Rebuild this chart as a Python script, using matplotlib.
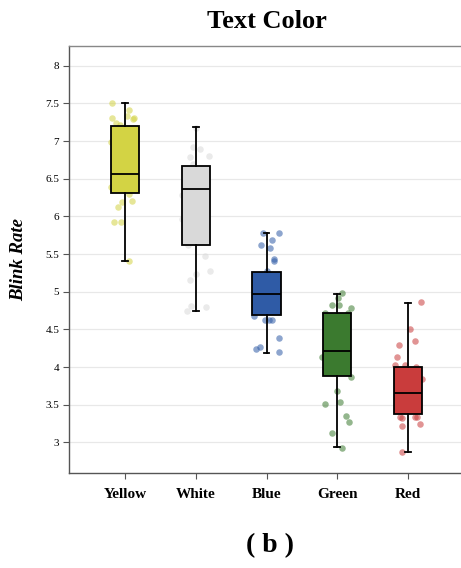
import matplotlib
matplotlib.use("Agg")
import matplotlib.pyplot as plt
import numpy as np

categories = ["Yellow", "White", "Blue", "Green", "Red"]
box_colors = ["#d3d344", "#d9d9d9", "#2f5ba6", "#3b7a2f", "#c93c3c"]

# box statistics
q1 = [6.31, 5.62, 4.69, 3.885, 3.38]
med = [6.56, 6.37, 4.965, 4.213, 3.651]
q3 = [7.20, 6.67, 5.265, 4.713, 4.00]
whislo = [5.41, 4.74, 4.19, 2.94, 2.876]
whishi = [7.50, 7.18, 5.78, 4.97, 4.854]

# jittered points (value, horizontal offset)
yellow_vals = [7.50, 7.41, 7.31, 7.33, 7.24, 7.31, 7.29, 7.21, 6.99, 6.39, 6.30, 6.19, 6.21, 6.12, 5.93, 5.92, 5.41]
yellow_off = [-0.18, 0.06, -0.18, 0.02, -0.13, 0.125, 0.11, -0.07, -0.2, -0.2, 0.06, -0.04, 0.09, -0.1, -0.16, -0.06, 0.06]
white_vals = [7.17, 6.925, 6.89, 6.79, 6.80, 6.70, 6.28, 5.97, 5.62, 5.47, 5.27, 5.24, 5.16, 4.81, 4.74, 4.80]
white_off = [0.0, -0.04, 0.054, -0.09, 0.19, -0.04, -0.2, -0.2, -0.11, 0.125, 0.2, 0.0, -0.09, -0.065, -0.13, 0.14]
blue_vals = [5.78, 5.78, 5.62, 5.68, 5.58, 5.43, 5.41, 5.27, 4.68, 4.62, 4.62, 4.63, 4.39, 4.24, 4.26, 4.195]
blue_off = [-0.045, 0.17, -0.08, 0.07, 0.05, 0.10, 0.11, 0.0, -0.18, -0.02, 0.03, 0.07, 0.17, -0.15, -0.09, 0.17]
green_vals = [4.979, 4.91, 4.82, 4.82, 4.79, 4.72, 4.72, 4.13, 3.87, 3.68, 3.51, 3.53, 3.35, 3.27, 3.13, 2.93]
green_off = [0.07, 0.01, -0.07, 0.03, 0.19, 0.155, -0.18, -0.21, 0.19, -0.01, -0.18, 0.04, 0.13, 0.16, -0.07, 0.07]
red_vals = [4.86, 4.51, 4.29, 4.35, 4.13, 4.02, 4.02, 4.00, 3.84, 3.33, 3.32, 3.34, 3.33, 3.22, 3.24, 2.875]
red_off = [0.18, 0.03, -0.12, 0.095, -0.15, -0.18, -0.04, 0.12, 0.2, -0.11, -0.09, 0.1, 0.13, -0.09, 0.17, -0.08]

point_vals = [yellow_vals, white_vals, blue_vals, green_vals, red_vals]
point_offs = [yellow_off, white_off, blue_off, green_off, red_off]

yticks = [3, 3.5, 4, 4.5, 5, 5.5, 6, 6.5, 7, 7.5, 8]
ytick_labels = ["3", "3.5", "4", "4.5", "5", "5.5", "6", "6.5", "7", "7.5", "8"]

serif = ["Liberation Serif", "DejaVu Serif"]
plt.rcParams["font.family"] = serif

fig = plt.figure(figsize=(4.61, 5.68), dpi=100)
ax = fig.add_axes([0.1497, 0.1673, 0.8503, 0.919 - 0.1673])

positions = np.arange(len(categories))

# points
for i, (vals, offs) in enumerate(zip(point_vals, point_offs)):
    ax.scatter(positions[i] + np.array(offs), vals, s=22, color=box_colors[i],
               alpha=0.55, linewidths=0, zorder=2)

stats = []
for i in range(len(categories)):
    stats.append(dict(med=med[i], q1=q1[i], q3=q3[i], whislo=whislo[i],
                      whishi=whishi[i], fliers=[], label=categories[i]))

bp = ax.bxp(stats, positions=positions, widths=0.4, patch_artist=True,
            showfliers=False, capwidths=0.08,
            boxprops=dict(edgecolor="black", linewidth=1.3),
            medianprops=dict(color="black", linewidth=1.3),
            whiskerprops=dict(color="black", linewidth=1.3),
            capprops=dict(color="black", linewidth=1.3))
for patch, c in zip(bp["boxes"], box_colors):
    patch.set_facecolor(c)
    patch.set_zorder(3)
for key in ["medians", "whiskers", "caps"]:
    for ln in bp[key]:
        ln.set_zorder(4)

ax.set_xlim(-0.795, 4.75)
ax.set_ylim(2.593, 8.262)
ax.set_yticks(yticks)
ax.set_yticklabels(ytick_labels, fontsize=8)
ax.set_xticks(positions)
ax.set_xticklabels(categories, fontsize=11, fontweight="bold")
ax.tick_params(axis="x", length=4, width=0.8, color="#555555", pad=7)
ax.tick_params(axis="y", length=4, width=0.8, color="#555555", pad=3)

ax.yaxis.grid(True, color="#e8e8e8", linewidth=0.9)
ax.set_axisbelow(True)

for s in ["left", "bottom", "top"]:
    ax.spines[s].set_color("#555555")
    ax.spines[s].set_linewidth(1.0)
ax.spines["top"].set_color("#888888")
ax.spines["right"].set_visible(False)

ax.set_ylabel("Blink Rate", fontsize=13.5, fontweight="bold", fontstyle="italic")
ax.yaxis.set_label_coords(-0.108, 0.5)

fig.text(0.58, 0.962, "Text Color", ha="center", va="center", fontsize=19, fontweight="bold")
fig.text(0.585, 0.04, "( b )", ha="center", va="center", fontsize=20, fontweight="bold")

fig.savefig("out.png", dpi=100)
